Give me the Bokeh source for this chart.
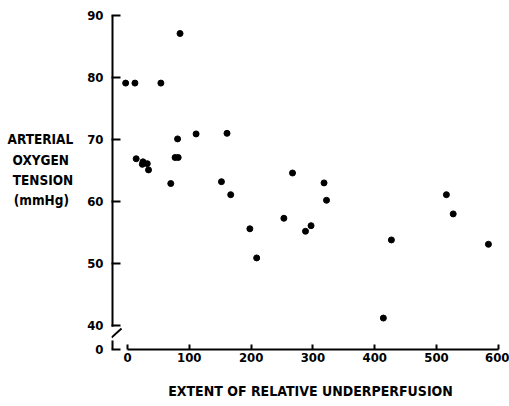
from bokeh.plotting import figure
from bokeh.models import FixedTicker
from bokeh.embed import file_html
from bokeh.resources import INLINE

# ---- data ----
x_vals = [-3, 12, 54, 85, 81, 111, 161, 14, 25, 24, 32, 34, 77, 82, 70,
          152, 167, 267, 318, 322, 198, 209, 253, 288, 297, 516, 527, 427, 414, 584]
y_vals = [79.1, 79.1, 79.1, 87.1, 70.1, 70.9, 71.0, 66.9, 66.4, 66.0, 66.1, 65.1, 67.1, 67.1, 62.9,
          63.2, 61.1, 64.6, 63.0, 60.2, 55.6, 50.9, 57.3, 55.2, 56.1, 61.1, 58.0, 53.8, 41.2, 53.1]
x_ticks = [0, 100, 200, 300, 400, 500, 600]
y_ticks = [40, 50, 60, 70, 80, 90]
y_zero_label = "0"
y_title_lines = ["ARTERIAL", "OXYGEN\u00a0", "TENSION", "(mmHg)\u00a0"]
x_title = "EXTENT OF RELATIVE UNDERPERFUSION"

FONT = "DejaVu Sans Condensed"
X0, X1 = -25.9, 618.1
Y0, Y1 = 36.13, 90.81   # Y0 = position of the broken-axis "0"

p = figure(width=509, height=406, x_range=(X0, X1), y_range=(Y0, Y1),
           output_backend="svg", toolbar_location=None,
           min_border_left=111, min_border_right=0, min_border_top=10, min_border_bottom=57)
p.outline_line_color = None
p.grid.visible = False

# x axis
xa = p.xaxis[0]
xa.bounds = (0, 600)
xa.ticker = FixedTicker(ticks=x_ticks)
xa.axis_line_width = 2
xa.major_tick_in = 5
xa.major_tick_out = 0
xa.major_tick_line_width = 2
xa.minor_tick_line_color = None
xa.major_label_text_font = FONT
xa.major_label_text_font_style = "bold"
xa.major_label_text_font_size = "13px"
xa.major_label_text_color = "black"
xa.major_label_standoff = 3
xa.axis_label = x_title
xa.axis_label_text_font = FONT
xa.axis_label_text_font_style = "bold"
xa.axis_label_text_font_size = "14px"
xa.axis_label_text_color = "black"
xa.axis_label_standoff = 18

# y axis (line drawn manually for the break)
ya = p.yaxis[0]
ya.axis_line_color = None
ya.ticker = FixedTicker(ticks=[Y0] + y_ticks)
ya.major_label_overrides = {Y0: y_zero_label}
ya.major_tick_in = 9
ya.major_tick_out = 0
ya.major_tick_line_width = 2
ya.minor_tick_line_color = None
ya.major_label_text_font = FONT
ya.major_label_text_font_style = "bold"
ya.major_label_text_font_size = "13px"
ya.major_label_text_color = "black"
ya.major_label_standoff = 8
ya.axis_label = "\n".join(y_title_lines) + "\n "
ya.axis_label_orientation = "horizontal"
ya.axis_label_text_align = "center"
ya.axis_label_text_font = FONT
ya.axis_label_text_font_style = "bold"
ya.axis_label_text_font_size = "13.5px"
ya.axis_label_text_line_height = 1.27
ya.axis_label_text_color = "black"
ya.axis_label_standoff = 11

# broken y axis line
p.segment(x0=[X0, X0], y0=[39.8, Y0], x1=[X0, X0], y1=[90, 37.6], line_width=4, color="black")
p.segment(x0=[X0], y0=[38.06], x1=[-9.7], y1=[39.52], line_width=2, color="black")

p.scatter(x_vals, y_vals, size=6, color="black")

open("out.html", "w").write(file_html(p, INLINE))
